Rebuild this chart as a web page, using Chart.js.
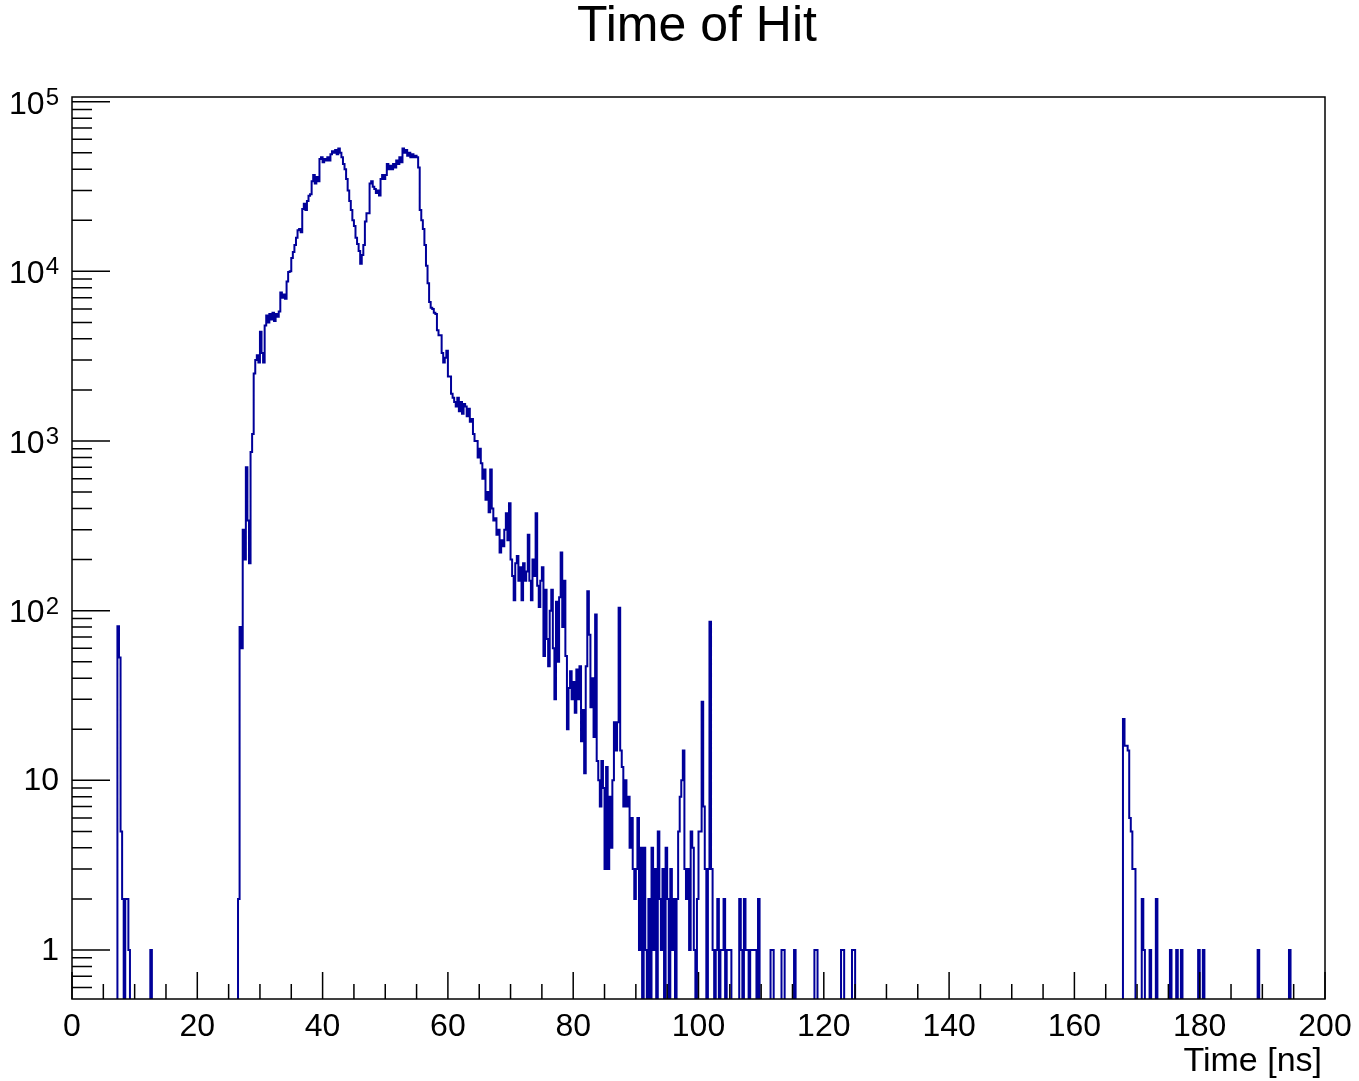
<!DOCTYPE html>
<html>
<head>
<meta charset="utf-8">
<title>Time of Hit</title>
<script src="https://cdn.jsdelivr.net/npm/chart.js@4.4.1/dist/chart.umd.min.js"></script>
<style>
  html, body { margin: 0; padding: 0; background: #fff; }
  #wrap { position: relative; width: 1359px; height: 1081px; }
</style>
</head>
<body>
<div id="wrap"><canvas id="hitChart"></canvas></div>
<script>
// histogram binning (ns)
const BIN_WIDTH = 0.25;
const N_BINS = 800;

// isolated early hits : bin low edge / count
const earlyBinStarts = [7.25, 7.5, 7.75, 8.0, 8.5, 8.75, 9.0, 12.5];
const earlyCounts = [81, 53, 5, 2, 2, 2, 1, 1];

// main peak, consecutive bins starting at 26.0 ns (4 bins per ns, one row per ns)
const mainFirstBin = 26.0;
const mainCounts = [
  0, 0, 2, 80,
  60, 300, 200, 700,
  340, 190, 860, 1100,
  2500, 3000, 3200, 2900,
  4400, 3300, 2900, 4800,
  5500, 5000, 5600, 5200,
  5700, 5100, 5600, 5400,
  5800, 7500, 7000, 7300,
  6900, 8700, 9900, 10000,
  12000, 13000, 14300, 15800,
  17500, 17800, 17000, 23300,
  25000, 23000, 26000, 27900,
  28500, 34000, 37000, 33000,
  36000, 34000, 46000, 47000,
  44000, 46000, 45000, 47000,
  45000, 49000, 51000, 50000,
  52000, 49000, 53000, 50000,
  47000, 43000, 40000, 35000,
  30000, 26000, 23000, 20000,
  18500, 15800, 14500, 13200,
  11100, 12500, 14300, 19700,
  22000, 22000, 33000, 34000,
  31500, 30600, 29000, 30000,
  28000, 35000, 37000, 35000,
  37000, 43000, 40000, 42000,
  40000, 43000, 41000, 45000,
  43000, 47000, 44000, 53000,
  50000, 52000, 48000, 50000,
  47000, 49000, 47000, 48000,
  47000, 41000, 23000, 20000,
  17800, 14300, 10800, 8500,
  6600, 6100, 6000, 5700,
  5600, 4500, 4200, 4200,
  3300, 2900, 3100, 3400,
  2400, 2400, 1900, 1800,
  1700, 1600, 1800, 1500,
  1700, 1450, 1650, 1600,
  1400, 1550, 1300, 1350,
  1100, 1000, 1000, 800,
  900, 740, 600, 680,
  450, 500, 380, 680,
  400, 340, 350, 280,
  300, 220, 260, 240,
  300, 375, 260, 430,
  200, 160, 115, 190,
  210, 150, 180, 115,
  190, 150, 170, 280,
  150, 115, 200, 160,
  375, 140, 105, 150,
  180, 54, 133, 68,
  47, 100, 133, 60,
  30, 113, 50, 120,
  220, 80, 150, 54,
  20, 35, 44, 30,
  38, 25, 45, 30,
  47, 17, 26, 11,
  47, 130, 72, 27,
  40, 18, 95, 13,
  10, 7, 13, 9,
  3, 12, 3, 8,
  4, 10, 22, 15,
  22, 104, 15, 12,
  7, 10, 7, 8,
  4, 6, 3, 2,
  3, 6, 1, 4,
  0, 4, 1, 0,
  2, 0, 4, 1,
  3, 0, 5, 2,
  1, 3, 0, 4,
  2, 0, 3, 1,
  2, 0, 2, 5,
  8, 10, 15, 3,
  2, 3, 1, 5,
  4, 1, 0, 2,
  5, 5, 29, 7,
  3, 0, 3, 86,
  3, 1, 0, 1,
  2, 0, 1, 1,
  2, 0, 1, 1,
  1, 0, 0, 0,
  0, 0, 2, 1,
  0, 2, 1, 1,
  0, 1, 1, 1,
  1, 0, 2, 0
];

// sparse tail after the main peak
const tailBinStarts = [111.5, 111.75, 113.25, 113.5, 115.25, 118.5, 118.75, 122.75, 123.0, 124.5, 124.75];
const tailCounts = [1, 1, 1, 1, 1, 1, 1, 1, 1, 1, 1];

// late bump around 168 ns
const lateBinStarts = [167.75, 168.0, 168.25, 168.5, 168.75, 169.0, 169.25, 169.5, 170.75, 171.0, 172.0, 173.0, 175.25, 176.25, 177.0, 179.75, 180.5, 189.25, 194.25];
const lateCounts = [23, 16, 16, 15, 6, 5, 3, 3, 2, 1, 1, 2, 1, 1, 1, 1, 1, 1, 1];

// axes
const xMin = 0, xMax = 200;
const yMin = 0.514, yMax = 1.066e5;
const xLabelValues = [0, 20, 40, 60, 80, 100, 120, 140, 160, 180, 200];
const xTickStep = 5;
const yDecadeExponents = [0, 1, 2, 3, 4, 5];

// remplit le tableau des bins
const counts = new Array(N_BINS).fill(0);
function putBins(starts, values) {
  starts.forEach((s, i) => { counts[Math.round(s / BIN_WIDTH)] = values[i]; });
}
putBins(earlyBinStarts, earlyCounts);
putBins(mainCounts.map((_, i) => mainFirstBin + i * BIN_WIDTH), mainCounts);
putBins(tailBinStarts, tailCounts);
putBins(lateBinStarts, lateCounts);

// empty bins drop below the frame (clipped), like ROOT on log scale
const EMPTY = 1e-3;
const points = counts.map((c, i) => ({ x: i * BIN_WIDTH, y: c > 0 ? c : EMPTY }));
points.push({ x: xMax, y: counts[N_BINS - 1] > 0 ? counts[N_BINS - 1] : EMPTY });

const FONT = '"Liberation Sans", Arial, Helvetica, sans-serif';

// frame, inward ticks and labels in ROOT style
const rootFrame = {
  id: 'rootFrame',
  afterDatasetsDraw(chart) {
    const { ctx, chartArea: a, scales: { x, y } } = chart;
    ctx.save();
    ctx.strokeStyle = '#000';
    ctx.lineWidth = 1.5;
    ctx.strokeRect(a.left, a.top, a.right - a.left, a.bottom - a.top);

    ctx.beginPath();
    for (let v = xMin; v <= xMax; v += xTickStep) {
      const px = x.getPixelForValue(v);
      const len = v % 20 === 0 ? 27 : 15;
      ctx.moveTo(px, a.bottom);
      ctx.lineTo(px, a.bottom - len);
    }
    for (let d = -1; d <= 5; d++) {
      for (let m = 1; m <= 9; m++) {
        const v = m * Math.pow(10, d);
        if (v < yMin || v > yMax) continue;
        const py = y.getPixelForValue(v);
        ctx.moveTo(a.left, py);
        ctx.lineTo(a.left + (m === 1 ? 38 : 20), py);
      }
    }
    ctx.stroke();

    ctx.fillStyle = '#000';
    // x labels
    ctx.font = '32px ' + FONT;
    ctx.textAlign = 'center';
    ctx.textBaseline = 'alphabetic';
    xLabelValues.forEach(v => ctx.fillText(String(v), x.getPixelForValue(v), 1036));

    // y labels
    const right = 59;
    yDecadeExponents.forEach(e => {
      const py = y.getPixelForValue(Math.pow(10, e));
      if (e <= 1) {
        ctx.font = '32px ' + FONT;
        ctx.textAlign = 'right';
        ctx.textBaseline = 'middle';
        ctx.fillText(e === 0 ? '1' : '10', right, py + 1);
      } else {
        ctx.font = '24px ' + FONT;
        ctx.textAlign = 'right';
        ctx.textBaseline = 'alphabetic';
        const sup = String(e);
        const supW = ctx.measureText(sup).width;
        ctx.fillText(sup, right, py + 3);
        ctx.font = '32px ' + FONT;
        ctx.textBaseline = 'middle';
        ctx.fillText('10', right - supW - 1, py + 3);
      }
    });

    // axis title and title
    ctx.font = '34px ' + FONT;
    ctx.textAlign = 'right';
    ctx.textBaseline = 'alphabetic';
    ctx.fillText('Time [ns]', 1322, 1071);

    ctx.font = '50px ' + FONT;
    ctx.textAlign = 'center';
    ctx.fillText('Time of Hit', 697, 41);
    ctx.restore();
  }
};

new Chart(document.getElementById('hitChart'), {
  type: 'line',
  data: {
    datasets: [{
      data: points,
      borderColor: '#000099',
      borderWidth: 2,
      stepped: 'before',
      pointRadius: 0,
      fill: false,
      tension: 0
    }]
  },
  options: {
    responsive: true,
    maintainAspectRatio: false,
    animation: false,
    parsing: false,
    layout: { padding: { left: 72, right: 34, top: 97, bottom: 82 } },
    scales: {
      x: { type: 'linear', min: xMin, max: xMax, display: false },
      y: { type: 'logarithmic', min: yMin, max: yMax, display: false }
    },
    plugins: {
      legend: { display: false },
      tooltip: { enabled: false },
      title: { display: false }
    }
  },
  plugins: [rootFrame]
});
</script>
</body>
</html>
